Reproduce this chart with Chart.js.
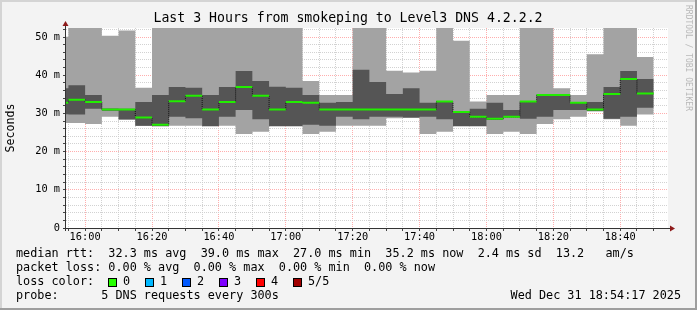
<!DOCTYPE html>
<html>
<head>
<meta charset="utf-8">
<script src="https://cdn.jsdelivr.net/npm/chart.js@4"></script>
<style>
  html, body { margin: 0; padding: 0; background: #f3f3f3; }
  canvas { display: block; }
</style>
</head>
<body>
<canvas id="smoke" width="697" height="310"></canvas>
<script>
// 5 minute steps, value of each step holds until the next one
const steps = ['15:50','15:55','16:00','16:05','16:10','16:15','16:20','16:25','16:30','16:35',
  '16:40','16:45','16:50','16:55','17:00','17:05','17:10','17:15','17:20','17:25',
  '17:30','17:35','17:40','17:45','17:50','17:55','18:00','18:05','18:10','18:15',
  '18:20','18:25','18:30','18:35','18:40','18:45'];
const lastStepEnd = '18:50';

// sorted pings per step (ms): lowest, 2nd, median, 4th, highest
const pingMin  = [27.5,27.5,27.2,29.1,28.3,26.7,26.6,26.8,26.8,26.6,26.8,24.6,25.2,26.6,26.6,24.6,25.2,26.8,
  26.8,26.8,28.7,28.8,24.6,25.2,26.6,26.6,24.6,25.2,24.6,27.2,28.5,29.1,30.5,28.5,26.8,29.7];
const pingLow  = [29.8,29.7,31.2,30.7,28.5,26.8,26.7,29.1,28.7,26.7,29.1,30.9,28.5,26.7,26.7,27.0,26.8,29.1,
  28.5,29.1,29.1,28.9,29.1,28.5,26.7,26.7,28.3,28.9,28.6,29.1,30.9,30.9,30.6,28.6,29.1,31.5];
const median   = [32.8,33.6,33.0,31.0,31.0,28.9,27.0,33.2,34.6,31.0,33.0,36.9,34.6,31.0,33.0,32.8,31.0,31.0,
  31.0,31.0,31.0,31.0,31.0,33.1,30.4,29.1,28.6,29.1,33.1,34.8,34.8,32.8,31.0,35.1,39.0,35.2];
const pingHigh = [36.6,37.4,34.8,31.3,31.2,33.0,34.8,36.9,36.7,34.8,36.9,41.1,38.5,37.0,36.7,34.8,32.8,33.0,
  41.4,38.2,35.1,36.6,32.8,33.2,30.6,31.2,32.8,30.9,33.2,35.1,34.9,32.9,33.0,36.9,41.1,39.0];
const pingMax  = [50.1,60,60,50.3,51.7,36.7,60,60,60,60,60,60,60,60,60,38.5,34.8,34.8,
  60,60,41.2,40.7,41.2,60,49.0,33.1,34.8,34.8,60,60,36.6,34.8,45.5,60,60,44.8];

const timeLabels = ['16:00','16:20','16:40','17:00','17:20','17:40','18:00','18:20','18:40'];
const yLabelValues = [0, 10, 20, 30, 40, 50];
const yLabels = ['0', '10 m', '20 m', '30 m', '40 m', '50 m'];

const lossLabels = ['0', '1', '2', '3', '4', '5/5'];
const lossColors = ['#26ff00', '#00b8ff', '#0059ff', '#7e00ff', '#ff0000', '#a10000'];

const toMin = s => { const [h, m] = s.split(':').map(Number); return h * 60 + m; };
const startMin = toMin('15:54') + 17 / 60;
const endMin = toMin('18:54') + 17 / 60;

function stepped(arr) {
  const pts = steps.map((t, i) => ({ x: toMin(t), y: arr[i] }));
  pts.push({ x: toMin(lastStepEnd), y: arr[arr.length - 1] });
  return pts;
}
function flatSegments(arr) {
  const pts = [];
  steps.forEach((t, i) => {
    const a = toMin(t);
    const b = i + 1 < steps.length ? toMin(steps[i + 1]) : toMin(lastStepEnd);
    pts.push({ x: a, y: arr[i] }, { x: b, y: arr[i] }, { x: b, y: null });
  });
  return pts;
}

const MONO = 'DejaVu Sans Mono';
const fmtTime = v => {
  const h = Math.floor(v / 60), m = Math.round(v % 60);
  return h + ':' + String(m).padStart(2, '0');
};

const gridColor = major => major ? 'rgba(255,120,120,0.6)' : 'rgba(205,205,205,0.9)';

const decor = {
  id: 'decor',
  beforeDraw(chart) {
    const { ctx, chartArea: a } = chart;
    ctx.save();
    ctx.fillStyle = '#f3f3f3';
    ctx.fillRect(0, 0, chart.width, chart.height);
    ctx.fillStyle = '#ffffff';
    ctx.fillRect(a.left, a.top, a.right - a.left, a.bottom - a.top);
    ctx.restore();
  },
  afterDraw(chart) {
    const { ctx, chartArea: a } = chart;
    ctx.save();
    // frame
    ctx.fillStyle = '#d4d4d4';
    ctx.fillRect(0, 0, chart.width, 2);
    ctx.fillRect(0, 0, 2, chart.height);
    ctx.fillStyle = '#9e9e9e';
    ctx.fillRect(0, chart.height - 2, chart.width, 2);
    ctx.fillRect(chart.width - 2, 0, 2, chart.height);

    // axes
    ctx.strokeStyle = '#333';
    ctx.lineWidth = 1;
    ctx.beginPath();
    ctx.moveTo(a.left - 0.5, a.top - 3);
    ctx.lineTo(a.left - 0.5, a.bottom + 3);
    ctx.moveTo(a.left - 3, a.bottom + 0.5);
    ctx.lineTo(a.right + 3, a.bottom + 0.5);
    ctx.stroke();
    ctx.fillStyle = '#8e1a1a';
    ctx.beginPath();
    ctx.moveTo(a.left - 3.5, a.top - 2);
    ctx.lineTo(a.left + 2.5, a.top - 2);
    ctx.lineTo(a.left - 0.5, a.top - 7);
    ctx.closePath();
    ctx.fill();
    ctx.beginPath();
    ctx.moveTo(a.right + 2, a.bottom - 2.5);
    ctx.lineTo(a.right + 2, a.bottom + 3.5);
    ctx.lineTo(a.right + 7, a.bottom + 0.5);
    ctx.closePath();
    ctx.fill();

    // title
    ctx.fillStyle = '#000';
    ctx.textBaseline = 'middle';
    ctx.textAlign = 'center';
    ctx.font = '13.2px "' + MONO + '"';
    ctx.fillText('Last 3 Hours from smokeping to Level3 DNS 4.2.2.2', 348, 19);

    // y title
    ctx.font = '11.6px "' + MONO + '"';
    ctx.save();
    ctx.translate(11, 128);
    ctx.rotate(-Math.PI / 2);
    ctx.fillText('Seconds', 0, 0);
    ctx.restore();

    // rrdtool mark
    ctx.save();
    ctx.fillStyle = '#b8b8b8';
    ctx.font = '8px "' + MONO + '"';
    ctx.translate(688, 5);
    ctx.rotate(Math.PI / 2);
    ctx.textAlign = 'left';
    ctx.fillText('RRDTOOL / TOBI OETIKER', 0, 0);
    ctx.restore();

    // legend
    ctx.textAlign = 'left';
    ctx.font = '11.8px "' + MONO + '"';
    ctx.fillText('median rtt:  32.3 ms avg  39.0 ms max  27.0 ms min  35.2 ms now  2.4 ms sd  13.2   am/s', 16, 254);
    ctx.fillText('packet loss: 0.00 % avg  0.00 % max  0.00 % min  0.00 % now', 16, 268);
    ctx.fillText('loss color:', 16, 282);
    lossLabels.forEach((lab, i) => {
      const x = 108 + i * 37;
      ctx.fillStyle = lossColors[i];
      ctx.fillRect(x, 278, 8, 8);
      ctx.strokeStyle = '#000';
      ctx.strokeRect(x + 0.5, 278.5, 8, 8);
      ctx.fillStyle = '#000';
      ctx.fillText(lab, x + 15, 282);
    });
    ctx.fillText('probe:      5 DNS requests every 300s', 16, 296);
    ctx.textAlign = 'right';
    ctx.fillText('Wed Dec 31 18:54:17 2025', 681, 296);
    ctx.restore();
  }
};

new Chart(document.getElementById('smoke'), {
  type: 'line',
  data: {
    datasets: [
      { label: 'median', data: flatSegments(median), borderColor: '#22ee00', borderWidth: 2,
        fill: false, spanGaps: false },
      { label: 'median step', data: stepped(median), stepped: 'before', borderColor: '#111',
        borderWidth: 1, borderDash: [1, 1], fill: false },
      { label: 'ping 4', data: stepped(pingHigh), stepped: 'before', borderWidth: 0,
        fill: '+1', backgroundColor: '#555555' },
      { label: 'ping 2', data: stepped(pingLow), stepped: 'before', borderWidth: 0, fill: false },
      { label: 'ping 5', data: stepped(pingMax), stepped: 'before', borderWidth: 0,
        fill: '+1', backgroundColor: '#a3a3a3' },
      { label: 'ping 1', data: stepped(pingMin), stepped: 'before', borderWidth: 0, fill: false }
    ]
  },
  options: {
    responsive: false,
    animation: false,
    devicePixelRatio: 1,
    layout: { padding: { top: 28, left: 0, right: 29, bottom: 62 } },
    elements: { point: { radius: 0 }, line: { tension: 0 } },
    plugins: { legend: { display: false }, tooltip: { enabled: false }, title: { display: false } },
    scales: {
      x: {
        type: 'linear',
        min: startMin,
        max: endMin,
        z: 1,
        afterFit: s => { s.height = 20; },
        afterBuildTicks: s => {
          const t = [];
          for (let v = Math.ceil(startMin / 5) * 5; v < endMin; v += 5) t.push({ value: v });
          s.ticks = t;
        },
        ticks: {
          autoSkip: false, maxRotation: 0, padding: 0, color: '#000',
          font: { family: MONO, size: 10.3 },
          callback: v => { const l = fmtTime(v); return timeLabels.includes(l) ? l : ''; }
        },
        grid: {
          color: c => gridColor(c.tick && timeLabels.includes(fmtTime(c.tick.value))),
          tickColor: '#444', tickLength: 3, lineWidth: 1
        },
        border: { display: false, dash: [1, 1] }
      },
      y: {
        min: 0,
        max: 52.36,
        z: 1,
        afterFit: s => { s.width = 66; },
        afterBuildTicks: s => {
          const t = [];
          for (let v = 0; v <= 52; v += 2) t.push({ value: v });
          s.ticks = t;
        },
        ticks: {
          autoSkip: false, padding: 3, color: '#000',
          font: { family: MONO, size: 10.3 },
          callback: v => { const i = yLabelValues.indexOf(v); return i >= 0 ? yLabels[i] : ''; }
        },
        grid: {
          color: c => gridColor(c.tick && yLabelValues.includes(c.tick.value) && c.tick.value > 0),
          tickColor: '#444', tickLength: 3, lineWidth: 1
        },
        border: { display: false, dash: [1, 1] }
      }
    }
  },
  plugins: [decor]
});
</script>
</body>
</html>
